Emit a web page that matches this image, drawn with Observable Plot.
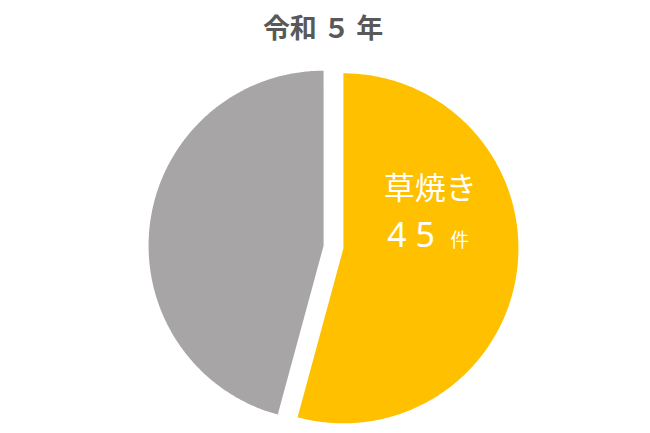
<!DOCTYPE html>
<html>
<head>
<meta charset="utf-8">
<script src="https://cdn.jsdelivr.net/npm/d3@7"></script>
<script src="https://cdn.jsdelivr.net/npm/@observablehq/plot@0.6"></script>
<style>
  html, body { margin: 0; padding: 0; background: #fff; }
  svg text { font-family: "Noto Sans CJK JP", "Noto Sans", sans-serif; }
  svg g[font-size="34"] text { font-family: "Noto Sans", sans-serif; letter-spacing: 9px; }
</style>
</head>
<body>
<div id="chart"></div>
<script>
// ---- data ----
const title = "令和 ５ 年";
const categories = ["草焼き", "その他"];
const counts = [45, 38];
const unit = "件";
const colors = ["#FFC000", "#A7A5A5"];

// ---- derived geometry ----
const rows = categories.map((c, i) => ({cat: c, count: counts[i]}));
const arcs = d3.pie().sort(null).value(d => d.count)(rows);
const explode = 10 / 175;
const polys = [];
const centers = [];
arcs.forEach(a => {
  const mid = (a.startAngle + a.endAngle) / 2;
  const ox = Math.sin(mid) * explode, oy = Math.cos(mid) * explode;
  centers.push({cat: a.data.cat, count: a.data.count, x: ox + 0.5 * Math.sin(mid), y: oy + 0.5 * Math.cos(mid)});
  polys.push({cat: a.data.cat, x: ox, y: oy});
  const n = Math.max(2, Math.ceil((a.endAngle - a.startAngle) / 0.01));
  for (let k = 0; k <= n; k++) {
    const t = a.startAngle + (a.endAngle - a.startAngle) * k / n;
    polys.push({cat: a.data.cat, x: ox + Math.sin(t), y: oy + Math.cos(t)});
  }
});
const lab = centers.filter(d => d.cat === categories[0]);

const cx = 333, cy = 246.5, r = 175;
const chart = Plot.plot({
  width: 650,
  height: 433,
  margin: 0,
  x: {domain: [-1, 1], range: [cx - r, cx + r], axis: null},
  y: {domain: [-1, 1], range: [cy + r, cy - r], axis: null},
  color: {domain: categories, range: colors},
  marks: [
    Plot.line(polys, {x: "x", y: "y", z: "cat", fill: "cat", stroke: null, curve: "linear-closed"}),
    Plot.text([title], {frameAnchor: "top", text: d => d, dx: -2.5, dy: 18, fontSize: 27, fontWeight: "bold", fill: "#595959"}),
    Plot.text(lab, {x: "x", y: "y", text: "cat", dy: -71, fill: "white", fontSize: 31, lineAnchor: "middle"}),
    Plot.text(lab, {x: "x", y: "y", text: d => String(d.count), textAnchor: "start", dx: -43, dy: -24, fill: "white", fontSize: 34, lineAnchor: "middle"}),
    Plot.text(lab, {x: "x", y: "y", text: () => unit, textAnchor: "start", dx: 20, dy: -19, fill: "white", fontSize: 19, lineAnchor: "middle"})
  ]
});
document.getElementById("chart").appendChild(chart);
</script>
</body>
</html>
